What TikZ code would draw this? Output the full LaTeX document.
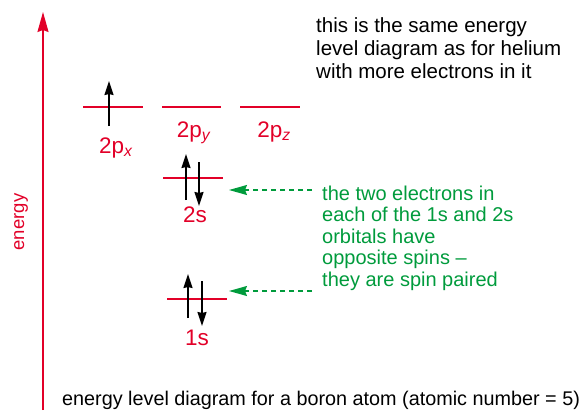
\documentclass[tikz,border=0pt]{standalone}
\usepackage{fontspec}
\setmainfont{Liberation Sans}
\usetikzlibrary{arrows.meta}
\definecolor{ered}{RGB}{226,0,40}
\definecolor{egreen}{RGB}{0,155,60}
\tikzset{
  level/.style={draw=ered,line width=2pt},
  spin/.style={line width=1.6pt,-{Stealth[length=14pt,width=9pt,inset=1pt]}},
  lbl/.style={text=ered,font=\fontsize{22.5}{26}\selectfont,inner sep=0pt,anchor=base},
  note/.style={align=left,inner sep=0pt,anchor=north west},
  pointer/.style={draw=egreen,line width=1.3pt,dash pattern=on 5pt off 4pt,-{Stealth[length=18pt,width=10pt,inset=2pt]}}
}
\begin{document}
\begin{tikzpicture}[x=1pt,y=-1pt]
\useasboundingbox (0,0) rectangle (584,410);
% energy axis
\coordinate (ax0) at (43,410);
\coordinate (ax1) at (43,12);
\draw[draw=ered,line width=1.6pt,-{Stealth[length=20pt,width=11pt,inset=2pt]}] (ax0) -- (ax1);
\node[text=ered,rotate=90,font=\fontsize{18.5}{22}\selectfont,inner sep=0pt] (en) at (21,222) {energy};
% 2p levels
\coordinate (px0) at (83,107); \coordinate (px1) at (143,107);
\coordinate (py0) at (162,107); \coordinate (py1) at (221,107);
\coordinate (pz0) at (240,107); \coordinate (pz1) at (300,107);
\draw[level] (px0) -- (px1);
\draw[level] (py0) -- (py1);
\draw[level] (pz0) -- (pz1);
\coordinate (pxa0) at (109,126); \coordinate (pxa1) at (109,81);
\draw[spin] (pxa0) -- (pxa1);
\node[lbl] (lpx) at (116,153) {2p\textsubscript{\textit{x}}};
\node[lbl] (lpy) at (194,137) {2p\textsubscript{\textit{y}}};
\node[lbl] (lpz) at (274,137) {2p\textsubscript{\textit{z}}};
% 2s
\coordinate (s20) at (163,178); \coordinate (s21) at (223,178);
\draw[level] (s20) -- (s21);
\coordinate (s2u0) at (186,200); \coordinate (s2u1) at (186,154);
\coordinate (s2d0) at (199,162); \coordinate (s2d1) at (199,206);
\draw[spin] (s2u0) -- (s2u1);
\draw[spin] (s2d0) -- (s2d1);
\node[lbl] (l2s) at (195,222) {2s};
% 1s
\coordinate (s10) at (167,299); \coordinate (s11) at (227,299);
\draw[level] (s10) -- (s11);
\coordinate (s1u0) at (188,318); \coordinate (s1u1) at (188,274);
\coordinate (s1d0) at (202,281); \coordinate (s1d1) at (202,326);
\draw[spin] (s1u0) -- (s1u1);
\draw[spin] (s1d0) -- (s1d1);
\node[lbl] (l1s) at (197,345) {1s};
% green pointers
\coordinate (g2a) at (312,190); \coordinate (g2b) at (229,190);
\coordinate (g1a) at (312,291); \coordinate (g1b) at (229,291);
\draw[pointer] (g2a) -- (g2b);
\draw[pointer] (g1a) -- (g1b);
\node[note,text=egreen,font=\fontsize{20}{21.5}\selectfont] (gt) at (322,185.5) {the two electrons in\\each of the 1s and 2s\\orbitals have\\opposite spins --\\they are spin paired};
% top note
\node[note,font=\fontsize{20.5}{23}\selectfont] (tt) at (316,17.3) {this is the same energy\\level diagram as for helium\\with more electrons in it};
% caption
\node[font=\fontsize{19.8}{22}\selectfont,inner sep=0pt,anchor=base west] (cap) at (62,405) {energy level diagram for a boron atom (atomic number = 5)};
\end{tikzpicture}
\end{document}
